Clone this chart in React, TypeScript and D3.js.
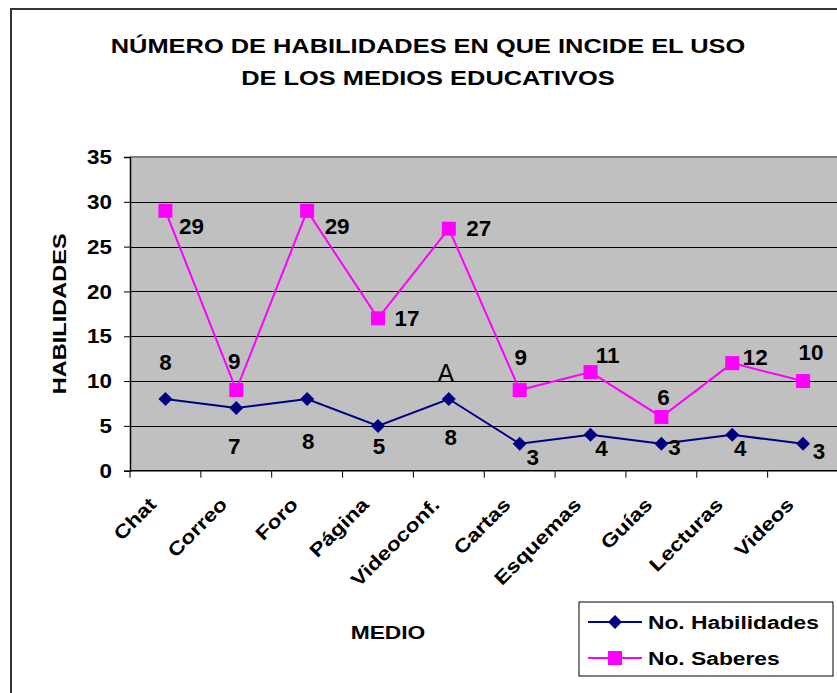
import { useEffect, useRef } from 'react'
import * as d3 from 'd3'

const categories = ['Chat', 'Correo', 'Foro', 'Página', 'Videoconf.', 'Cartas', 'Esquemas', 'Guías', 'Lecturas', 'Videos']
const habilidades = [8, 7, 8, 5, 8, 3, 4, 3, 4, 3]
const saberes = [29, 9, 29, 17, 27, 9, 11, 6, 12, 10]
const yTicks = [0, 5, 10, 15, 20, 25, 30, 35]

// where each data label sits relative to its point (label centre offset, px)
const habLabelOffset: [number, number][] = [[0, -36], [-2, 39], [1, 43], [1, 21], [2, 39], [13, 14], [11, 14], [13, 4], [8, 14], [16, 8]]
const sabLabelOffset: [number, number][] = [[26, 16], [-2, -28], [30, 16], [29, 0], [30, 0], [1, -32], [17, -17], [2, -19], [23, -6], [8, -28]]

const W = 837
const H = 693
const FONT = 'Liberation Sans, Arial, sans-serif'
// the source chart's lettering is a little wider than Arial at the same height
const WIDE = 1.2

export default function App() {
  const svgRef = useRef<SVGSVGElement>(null)

  useEffect(() => {
    if (!svgRef.current) return
    const svg = d3.select(svgRef.current)
    svg.selectAll('*').remove()

    const plot = { left: 130, right: 838.5, top: 157, bottom: 470.7 }

    const label = (parent: d3.Selection<any, any, any, any>, x: number, y: number, txt: string,
      size: number, opts: { anchor?: string; rotate?: number; sx?: number; bold?: boolean; baseline?: string } = {}) =>
      parent.append('text')
        .attr('transform', `translate(${x},${y})${opts.rotate ? ` rotate(${opts.rotate})` : ''} scale(${opts.sx ?? WIDE},1)`)
        .attr('text-anchor', opts.anchor ?? 'start')
        .attr('dominant-baseline', opts.baseline ?? 'auto')
        .attr('font-family', FONT)
        .attr('font-weight', opts.bold === false ? 'normal' : 'bold')
        .attr('font-size', size)
        .attr('fill', '#000')
        .text(txt)

    // outer chart frame (runs off the right / bottom of the picture)
    svg.append('rect')
      .attr('x', 11).attr('y', 9).attr('width', 900).attr('height', 800)
      .attr('fill', '#fff').attr('stroke', '#333').attr('stroke-width', 2)

    const x = d3.scaleBand<string>().domain(categories).range([plot.left, plot.right])
    const cx = (c: string) => (x(c) ?? 0) + x.bandwidth() / 2
    const y = d3.scaleLinear().domain([0, 35]).range([plot.bottom, plot.top])

    // title
    label(svg, 428, 53, 'NÚMERO DE HABILIDADES EN QUE INCIDE EL USO', 21, { anchor: 'middle', sx: 1.21 })
    label(svg, 428, 85, 'DE LOS MEDIOS EDUCATIVOS', 21, { anchor: 'middle', sx: 1.21 })

    // plot area
    svg.append('rect')
      .attr('x', plot.left).attr('y', plot.top)
      .attr('width', plot.right - plot.left).attr('height', plot.bottom - plot.top)
      .attr('fill', '#c0c0c0')

    svg.append('g').selectAll('line')
      .data(yTicks.filter(t => t > 0 && t < 35))
      .join('line')
      .attr('x1', plot.left).attr('x2', plot.right)
      .attr('y1', d => Math.round(y(d)) + 0.5).attr('y2', d => Math.round(y(d)) + 0.5)
      .attr('stroke', '#000').attr('stroke-width', 1)

    svg.append('line')
      .attr('x1', plot.left).attr('x2', plot.right)
      .attr('y1', plot.top).attr('y2', plot.top)
      .attr('stroke', '#808080').attr('stroke-width', 2)

    // y axis
    const yAxis = d3.axisLeft(y).tickValues(yTicks).tickSize(6).tickFormat(() => '')
    const gy = svg.append('g')
      .attr('transform', `translate(${plot.left},0)`)
      .call(yAxis)
    gy.select('.domain').attr('stroke', '#000').attr('stroke-width', 1.5)
    gy.selectAll('.tick line').attr('stroke', '#000')
    yTicks.forEach(t => label(svg, 112, y(t), String(t), 20, { anchor: 'end', baseline: 'central', sx: 1.12 }))

    // x axis: ticks on band boundaries
    const gx = svg.append('g')
    gx.append('line')
      .attr('x1', plot.left).attr('x2', plot.right)
      .attr('y1', plot.bottom).attr('y2', plot.bottom)
      .attr('stroke', '#000').attr('stroke-width', 1.5)
    gx.selectAll('line.tk')
      .data(categories)
      .join('line')
      .attr('class', 'tk')
      .attr('x1', d => x(d) ?? 0).attr('x2', d => x(d) ?? 0)
      .attr('y1', plot.bottom).attr('y2', plot.bottom + 7)
      .attr('stroke', '#000')
    categories.forEach(c => label(gx, cx(c) - 8, plot.bottom + 35, c, 19, { anchor: 'end', rotate: -45 }))

    // axis titles
    label(svg, 388, 639, 'MEDIO', 19, { anchor: 'middle' })
    label(svg, 66, (plot.top + plot.bottom) / 2, 'HABILIDADES', 19, { anchor: 'middle', rotate: -90, sx: 1.24 })

    const line = d3.line<number>()
      .x((_, i) => cx(categories[i]))
      .y(d => y(d))

    // No. Saberes
    svg.append('path').datum(saberes)
      .attr('d', line).attr('fill', 'none').attr('stroke', '#ff00ff').attr('stroke-width', 2)
    svg.append('g').selectAll('rect')
      .data(saberes)
      .join('rect')
      .attr('x', (_, i) => cx(categories[i]) - 7).attr('y', d => y(d) - 7)
      .attr('width', 14).attr('height', 14)
      .attr('fill', '#ff00ff')

    // No. Habilidades
    svg.append('path').datum(habilidades)
      .attr('d', line).attr('fill', 'none').attr('stroke', '#000080').attr('stroke-width', 2)
    svg.append('g').selectAll('path')
      .data(habilidades)
      .join('path')
      .attr('transform', (d, i) => `translate(${cx(categories[i])},${y(d)})`)
      .attr('d', 'M0,-7L7,0L0,7L-7,0Z')
      .attr('fill', '#000080')

    // data labels
    const labels = svg.append('g')
    habilidades.forEach((d, i) => label(labels, cx(categories[i]) + habLabelOffset[i][0], y(d) + habLabelOffset[i][1],
      String(d), 22, { anchor: 'middle', baseline: 'central', sx: 1.02 }))
    saberes.forEach((d, i) => label(labels, cx(categories[i]) + sabLabelOffset[i][0], y(d) + sabLabelOffset[i][1],
      String(d), 22, { anchor: 'middle', baseline: 'central', sx: 1.02 }))

    // stray "A" annotation above the Videoconf. point
    label(svg, cx('Videoconf.') - 3, y(habilidades[4]) - 26, 'A', 25, { anchor: 'middle', baseline: 'central', bold: false, sx: 1 })

    // legend
    const lg = svg.append('g').attr('transform', 'translate(579,602)')
    lg.append('rect')
      .attr('width', 254).attr('height', 74)
      .attr('fill', '#fff').attr('stroke', '#000').attr('stroke-width', 1)
    const items = [
      { name: 'No. Habilidades', color: '#000080', shape: 'diamond' },
      { name: 'No. Saberes', color: '#ff00ff', shape: 'square' },
    ]
    items.forEach((it, i) => {
      const yy = 20 + i * 36
      lg.append('line')
        .attr('x1', 9).attr('x2', 63).attr('y1', yy).attr('y2', yy)
        .attr('stroke', it.color).attr('stroke-width', 2)
      if (it.shape === 'diamond') {
        lg.append('path')
          .attr('transform', `translate(36,${yy})`)
          .attr('d', 'M0,-7L7,0L0,7L-7,0Z').attr('fill', it.color)
      } else {
        lg.append('rect')
          .attr('x', 29).attr('y', yy - 7).attr('width', 14).attr('height', 14)
          .attr('fill', it.color)
      }
      label(lg, 69, yy, it.name, 19, { baseline: 'central' })
    })
  }, [])

  return (
    <svg ref={svgRef} width={W} height={H} style={{ position: 'absolute', left: 0, top: 0, background: '#fff' }} />
  )
}
